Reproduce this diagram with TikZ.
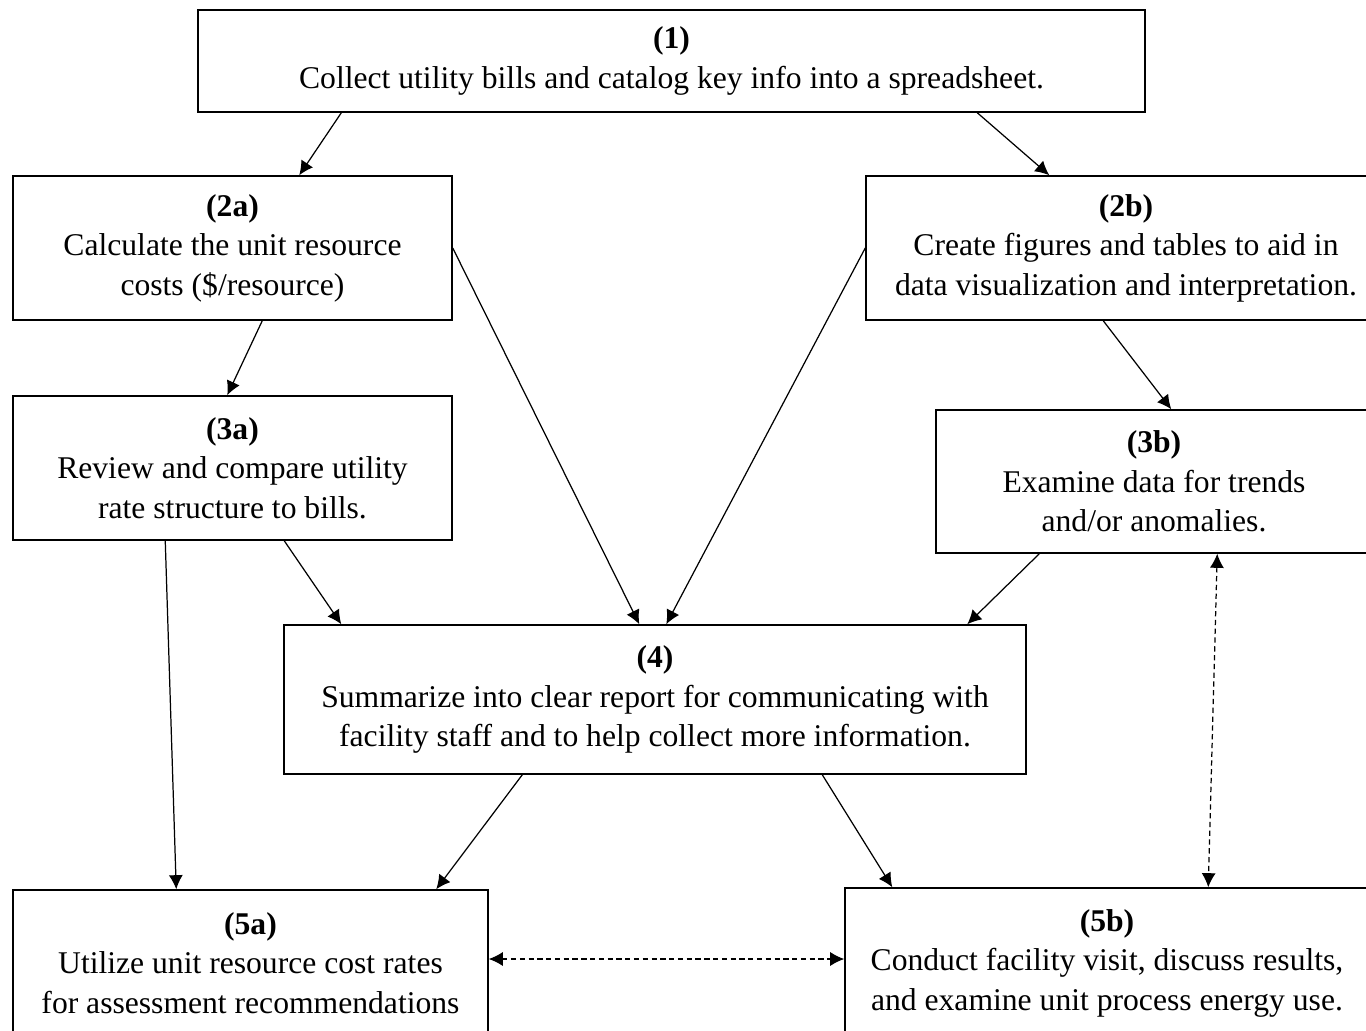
\documentclass[tikz,border=0pt]{standalone}
\usepackage{fontspec}
\setmainfont{Liberation Serif}
\usepackage{tikz}
\usetikzlibrary{calc}
\usetikzlibrary{arrows.meta}
\usetikzlibrary{positioning}
\tikzset{>={Latex[length=8pt,width=8pt]}}
\tikzstyle{stepbox} = [rectangle, draw=black, line width=0.9pt, align=center, inner sep=2pt, font=\fontsize{18}{22.5}\selectfont]
\tikzstyle{flow} = [->, draw=black, line width=0.7pt]
\tikzstyle{link} = [<->, draw=black, line width=0.7pt, densely dashed]

\begin{document}
\begin{tikzpicture}[x=0.02cm, y=-0.02cm]
\fill [white] (0,0) rectangle (1366,1031);
\clip (0,0) rectangle (1366,1031);
\node [stepbox, minimum width=18.94cm, minimum height=2.04cm] (b1) at (671.5, 61) {\textbf{(1)}\\Collect utility bills and catalog key info into a spreadsheet.};
\node [stepbox, minimum width=8.78cm, minimum height=2.88cm] (b2a) at (232.5, 248) {\textbf{(2a)}\\Calculate the unit resource\\costs (\$/resource)};
\node [stepbox, minimum width=10.4cm, minimum height=2.88cm] (b2b) at (1126, 248) {\textbf{(2b)}\\Create figures and tables to aid in\\data visualization and interpretation.};
\node [stepbox, minimum width=8.78cm, minimum height=2.88cm] (b3a) at (232.5, 468) {\textbf{(3a)}\\Review and compare utility\\rate structure to bills.};
\node [stepbox, minimum width=8.72cm, minimum height=2.86cm] (b3b) at (1154, 481.5) {\textbf{(3b)}\\Examine data for trends\\and/or anomalies.};
\node [stepbox, minimum width=14.84cm, minimum height=2.98cm] (b4) at (655, 699.5) {\textbf{(4)}\\Summarize into clear report for communicating with\\facility staff and to help collect more information.};
\node [stepbox, minimum width=9.5cm, minimum height=2.92cm] (b5a) at (250.5, 963) {\textbf{(5a)}\\Utilize unit resource cost rates\\for assessment recommendations};
\node [stepbox, minimum width=10.48cm, minimum height=3cm] (b5b) at (1107, 963) {\textbf{(5b)}\\Conduct facility visit, discuss results,\\and examine unit process energy use.};
% solid arrows
\draw [flow] ($(b1.south west)+(144,0)$) to ($(b2a.north west)+(287,0)$);
\draw [flow] ($(b1.south west)+(780,0)$) to ($(b2b.north west)+(184,0)$);
\draw [flow] ($(b2a.south west)+(250,0)$) to ($(b3a.north west)+(215,0)$);
\draw [flow] (b2a.east) to ($(b4.north west)+(356,0)$);
\draw [flow] (b2b.west) to ($(b4.north west)+(383,0)$);
\draw [flow] ($(b2b.south west)+(238,0)$) to ($(b3b.north west)+(236,0)$);
\draw [flow] ($(b3a.south west)+(272,0)$) to ($(b4.north west)+(58,0)$);
\draw [flow] ($(b3a.south west)+(153,0)$) to ($(b5a.north west)+(164,0)$);
\draw [flow] ($(b3b.south west)+(104,0)$) to ($(b4.north west)+(684,0)$);
\draw [flow] ($(b4.south west)+(239,0)$) to ($(b5a.north west)+(424,0)$);
\draw [flow] ($(b4.south west)+(539,0)$) to ($(b5b.north west)+(48,0)$);
% dashed two-way arrows
\draw [link] ($(b3b.south west)+(282,0)$) to ($(b5b.north west)+(364,0)$);
\draw [link] ($(b5a.east)+(0,-4)$) to ($(b5b.west)+(0,-4)$);
\end{tikzpicture}
\end{document}
